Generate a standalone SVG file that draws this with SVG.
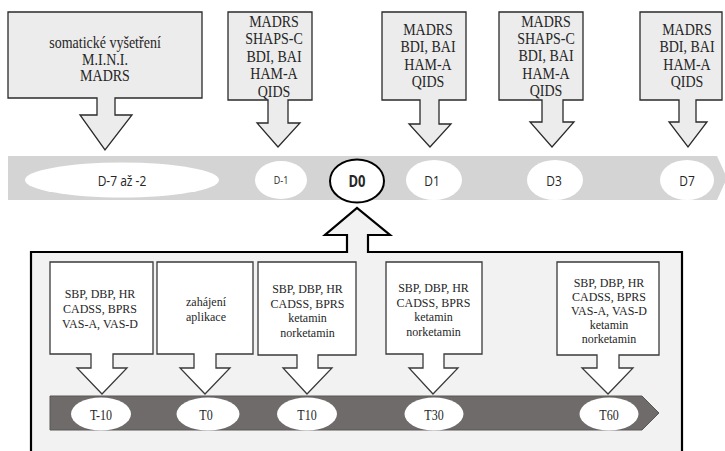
<svg xmlns="http://www.w3.org/2000/svg" width="725" height="451" viewBox="0 0 725 451">
<style>
.topbox{fill:#ececec;stroke:#2a2a2a;stroke-width:1.3;stroke-linejoin:miter}
.botbox{fill:#ffffff;stroke:#3a3a3a;stroke-width:1.3}
.serif{font-family:"Liberation Serif","Times New Roman",serif;fill:#262626;text-anchor:middle}
.f14{font-size:14px}
.f12{font-size:12px}
.sans{font-family:"Open Sans","Noto Sans",sans-serif;fill:#262626;text-anchor:middle}
.ell{fill:#ffffff}
</style>
<rect width="725" height="451" fill="#ffffff"/>

<g id="top-band">
  <polygon points="8,156 717,156 727,178 717,200 8,200" fill="#d4d4d4"/>
</g>

<g id="frame">
  <path d="M31 252 H347 V235 H325 L357 208 L390 235 H368 V252 H682 V462 H31 Z" fill="#f2f2f2" stroke="#000" stroke-width="2.2"/>
</g>

<g id="bottom-band">
  <polygon points="50,396 642,396 659,413 642,430 50,430" fill="#6f6b6b" stroke="#5a5757" stroke-width="1"/>
</g>

<g id="connectors"></g>

<g id="box-screening">
  <path class="topbox" d="M8 12 H202 V98 H115 V115 H132 L105 150 L80 115 H97 V98 H8 Z"/>
  <text class="serif f14" transform="translate(105 48) scale(1 1.15)"><tspan x="0" y="0">somatické vyšetření</tspan><tspan x="0" dy="14.4">M.I.N.I.</tspan><tspan x="0" dy="14.4">MADRS</tspan></text>
</g>

<g id="box-dm1">
  <path class="topbox" d="M228 12 H312 V100 H288 V123 H300 L278 147 L257 123 H268 V100 H228 Z"/>
  <text class="serif f14" transform="translate(274 27) scale(1 1.25)"><tspan x="0" y="0">MADRS</tspan><tspan x="0" dy="14">SHAPS-C</tspan><tspan x="0" dy="14">BDI, BAI</tspan><tspan x="0" dy="14">HAM-A</tspan><tspan x="0" dy="14">QIDS</tspan></text>
</g>

<g id="box-d1">
  <path class="topbox" d="M382 12 H466 V100 H439 V124 H451 L430 147 L409 124 H420 V100 H382 Z"/>
  <text class="serif f14" transform="translate(428 35) scale(1 1.25)"><tspan x="0" y="0">MADRS</tspan><tspan x="0" dy="14">BDI, BAI</tspan><tspan x="0" dy="14">HAM-A</tspan><tspan x="0" dy="14">QIDS</tspan></text>
</g>

<g id="box-d3">
  <path class="topbox" d="M499 12 H583 V100 H563 V122 H574 L552 147 L530 122 H542 V100 H499 Z"/>
  <text class="serif f14" transform="translate(546 26.5) scale(1 1.25)"><tspan x="0" y="0">MADRS</tspan><tspan x="0" dy="14">SHAPS-C</tspan><tspan x="0" dy="14">BDI, BAI</tspan><tspan x="0" dy="14">HAM-A</tspan><tspan x="0" dy="14">QIDS</tspan></text>
</g>

<g id="box-d7">
  <path class="topbox" d="M640 12 H722 V100 H696 V122 H707 L688 147 L669 122 H679 V100 H640 Z"/>
  <text class="serif f14" transform="translate(687 35) scale(1 1.25)"><tspan x="0" y="0">MADRS</tspan><tspan x="0" dy="14">BDI, BAI</tspan><tspan x="0" dy="14">HAM-A</tspan><tspan x="0" dy="14">QIDS</tspan></text>
</g>

<g id="day-d7-2">
  <ellipse class="ell" cx="122" cy="180" rx="97" ry="17.5"/>
  <text class="sans" font-size="12" transform="translate(122 185.5) scale(1 1.25)">D-7 až -2</text>
</g>
<g id="day-dm1">
  <ellipse class="ell" cx="281" cy="180" rx="26" ry="19"/>
  <text class="sans" font-size="9" transform="translate(281 184) scale(1 1.25)">D-1</text>
</g>
<g id="day-d0">
  <ellipse cx="357" cy="181" rx="27" ry="21.5" fill="#ffffff" stroke="#000" stroke-width="2"/>
  <text class="sans" font-size="13" font-weight="bold" transform="translate(357 187) scale(1 1.25)">D0</text>
</g>
<g id="day-d1">
  <ellipse class="ell" cx="434" cy="180" rx="28" ry="20"/>
  <text class="sans" font-size="12" transform="translate(432 185.5) scale(1 1.25)">D1</text>
</g>
<g id="day-d3">
  <ellipse class="ell" cx="555" cy="180" rx="28" ry="20"/>
  <text class="sans" font-size="12" transform="translate(554 185.5) scale(1 1.25)">D3</text>
</g>
<g id="day-d7">
  <ellipse class="ell" cx="687" cy="180" rx="27" ry="20"/>
  <text class="sans" font-size="12" transform="translate(687 185.5) scale(1 1.25)">D7</text>
</g>

<g id="box-tm10">
  <path class="botbox" d="M50 262 H153 V354 H113 V368 H127 L102 394 L77 368 H91 V354 H50 Z"/>
  <text class="serif f12" transform="translate(100 298) scale(1 1.1)"><tspan x="0" y="0">SBP, DBP, HR</tspan><tspan x="0" dy="13.6">CADSS, BPRS</tspan><tspan x="0" dy="13.6">VAS-A, VAS-D</tspan></text>
</g>
<g id="box-t0">
  <path class="botbox" d="M157 262 H253 V354 H216 V368 H230 L205 394 L180 368 H194 V354 H157 Z"/>
  <text class="serif f12" transform="translate(206 306) scale(1 1.1)"><tspan x="0" y="0">zahájení</tspan><tspan x="0" dy="13.6">aplikace</tspan></text>
</g>
<g id="box-t10">
  <path class="botbox" d="M258 262 H356 V355 H318 V368 H332 L307 394 L283 368 H297 V355 H258 Z"/>
  <text class="serif f12" transform="translate(307.5 293) scale(1 1.1)"><tspan x="0" y="0">SBP, DBP, HR</tspan><tspan x="0" dy="13.2">CADSS, BPRS</tspan><tspan x="0" dy="13.2">ketamin</tspan><tspan x="0" dy="13.2">norketamin</tspan></text>
</g>
<g id="box-t30">
  <path class="botbox" d="M386 262 H482 V354 H444 V368 H458 L433 394 L409 368 H423 V354 H386 Z"/>
  <text class="serif f12" transform="translate(433.5 292) scale(1 1.1)"><tspan x="0" y="0">SBP, DBP, HR</tspan><tspan x="0" dy="13.2">CADSS, BPRS</tspan><tspan x="0" dy="13.2">ketamin</tspan><tspan x="0" dy="13.2">norketamin</tspan></text>
</g>
<g id="box-t60">
  <path class="botbox" d="M557 262 H659 V355 H619 V368 H633 L608 394 L582 368 H597 V355 H557 Z"/>
  <text class="serif f12" transform="translate(609 287) scale(1 1.1)"><tspan x="0" y="0">SBP, DBP, HR</tspan><tspan x="0" dy="12.7">CADSS, BPRS</tspan><tspan x="0" dy="12.7">VAS-A, VAS-D</tspan><tspan x="0" dy="12.7">ketamin</tspan><tspan x="0" dy="12.7">norketamin</tspan></text>
</g>

<g id="time-tm10">
  <ellipse class="ell" cx="101" cy="414" rx="30" ry="16.5"/>
  <text class="serif f12" transform="translate(101 419.5) scale(1 1.25)">T-10</text>
</g>
<g id="time-t0">
  <ellipse class="ell" cx="208" cy="414" rx="31.5" ry="16.5"/>
  <text class="serif f12" transform="translate(206 419.5) scale(1 1.25)">T0</text>
</g>
<g id="time-t10">
  <ellipse class="ell" cx="307" cy="414" rx="30" ry="16.5"/>
  <text class="serif f12" transform="translate(307 419.5) scale(1 1.25)">T10</text>
</g>
<g id="time-t30">
  <ellipse class="ell" cx="434" cy="414" rx="29.5" ry="16.5"/>
  <text class="serif f12" transform="translate(434 419.5) scale(1 1.25)">T30</text>
</g>
<g id="time-t60">
  <ellipse class="ell" cx="609" cy="414" rx="29.5" ry="16.5"/>
  <text class="serif f12" transform="translate(609 419.5) scale(1 1.25)">T60</text>
</g>
</svg>
